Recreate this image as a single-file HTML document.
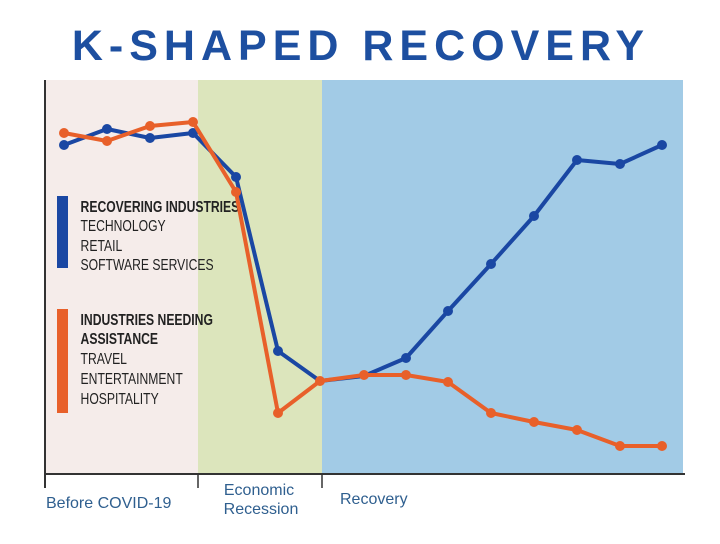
<!DOCTYPE html>
<html><head><style>
body{margin:0;background:#fff;width:720px;height:539px;overflow:hidden}
</style></head><body>
<svg width="720" height="539" xmlns="http://www.w3.org/2000/svg">
<text x="361" y="60" text-anchor="middle" font-family="Liberation Sans, sans-serif" font-weight="bold" font-size="43" letter-spacing="6" fill="#1d4fa0">K-SHAPED RECOVERY</text>
<rect x="46" y="80" width="152" height="394" fill="#f5ecea"/>
<rect x="198" y="80" width="124" height="394" fill="#dce5bc"/>
<rect x="322" y="80" width="361" height="394" fill="#a2cbe6"/>
<line x1="45" y1="80" x2="45" y2="488" stroke="#333" stroke-width="2"/>
<line x1="45" y1="474" x2="685" y2="474" stroke="#333" stroke-width="2"/>
<line x1="198" y1="474" x2="198" y2="488" stroke="#333" stroke-width="1.5"/>
<line x1="322" y1="474" x2="322" y2="488" stroke="#333" stroke-width="1.5"/>
<g font-family="Liberation Sans, sans-serif" font-size="16" fill="#2f5f8f">
<text x="46" y="508">Before COVID-19</text>
<text x="259" y="495" text-anchor="middle">Economic</text>
<text x="261" y="514" text-anchor="middle">Recession</text>
<text x="340" y="504">Recovery</text>
</g>
<rect x="57" y="196" width="11" height="72" fill="#1a47a3"/>
<rect x="57" y="309" width="11" height="104" fill="#e8602a"/>
<g font-family="Liberation Sans Narrow, Liberation Sans, sans-serif" font-size="16" fill="#222" transform="scale(0.76,1)">
<text x="106" y="212" font-weight="bold">RECOVERING INDUSTRIES</text>
<text x="106" y="231">TECHNOLOGY</text>
<text x="106" y="251">RETAIL</text>
<text x="106" y="270">SOFTWARE SERVICES</text>
<text x="106" y="325" font-weight="bold">INDUSTRIES NEEDING</text>
<text x="106" y="344" font-weight="bold">ASSISTANCE</text>
<text x="106" y="364">TRAVEL</text>
<text x="106" y="384">ENTERTAINMENT</text>
<text x="106" y="404">HOSPITALITY</text>
</g>
<polyline fill="none" stroke="#1a47a3" stroke-width="4" stroke-linejoin="round" points="64,145 107,129 150,138 193,133 236,177 278,351 320,381 364,376 406,358 448,311 491,264 534,216 577,160 620,164 662,145"/>
<g fill="#1a47a3">
<circle cx="64" cy="145" r="5"/><circle cx="107" cy="129" r="5"/><circle cx="150" cy="138" r="5"/><circle cx="193" cy="133" r="5"/><circle cx="236" cy="177" r="5"/><circle cx="278" cy="351" r="5"/><circle cx="406" cy="358" r="5"/><circle cx="448" cy="311" r="5"/><circle cx="491" cy="264" r="5"/><circle cx="534" cy="216" r="5"/><circle cx="577" cy="160" r="5"/><circle cx="620" cy="164" r="5"/><circle cx="662" cy="145" r="5"/>
</g>
<polyline fill="none" stroke="#e8602a" stroke-width="4" stroke-linejoin="round" points="64,133 107,141 150,126 193,122 236,192 278,413 320,381 364,375 406,375 448,382 491,413 534,422 577,430 620,446 662,446"/>
<g fill="#e8602a">
<circle cx="64" cy="133" r="5"/><circle cx="107" cy="141" r="5"/><circle cx="150" cy="126" r="5"/><circle cx="193" cy="122" r="5"/><circle cx="236" cy="192" r="5"/><circle cx="278" cy="413" r="5"/><circle cx="320" cy="381" r="5"/><circle cx="364" cy="375" r="5"/><circle cx="406" cy="375" r="5"/><circle cx="448" cy="382" r="5"/><circle cx="491" cy="413" r="5"/><circle cx="534" cy="422" r="5"/><circle cx="577" cy="430" r="5"/><circle cx="620" cy="446" r="5"/><circle cx="662" cy="446" r="5"/>
</g>
</svg>
</body></html>
